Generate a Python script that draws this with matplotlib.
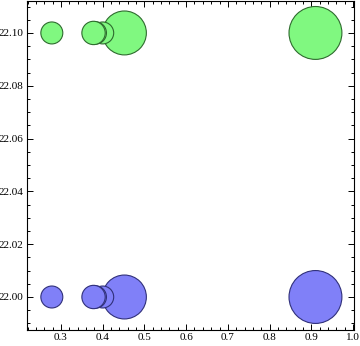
import matplotlib
matplotlib.use("Agg")
import matplotlib.pyplot as plt
from matplotlib.ticker import MultipleLocator, FormatStrFormatter
import numpy as np

# bubble data (drawn in this order)
x_vals = [0.91, 0.452, 0.40, 0.382, 0.378, 0.278]
z_vals = [5.8, 4.0, 1.0, 1.05, 1.13, 1.0]
y_green = 22.10
y_blue = 22.00

plt.rcParams['font.family'] = ['Liberation Serif', 'DejaVu Serif']

fig = plt.figure(figsize=(3.6, 3.46), dpi=100)
ax = fig.add_axes([27/360, 16/346, 327/360, 329/346])

scale = 250
sizes = np.array(z_vals) * scale
ax.scatter(x_vals, [y_green]*len(x_vals), s=sizes, facecolor='#80f880', edgecolor='#2e6b2e',
           linewidth=0.8, zorder=3)
ax.scatter(x_vals, [y_blue]*len(x_vals), s=sizes, facecolor='#8080f8', edgecolor='#30307a',
           linewidth=0.8, zorder=3)

ax.set_xlim(0.2185, 1.0024)
ax.set_ylim(21.9875, 22.1121)

ax.xaxis.set_major_locator(MultipleLocator(0.1))
ax.xaxis.set_minor_locator(MultipleLocator(0.02))
ax.yaxis.set_major_locator(MultipleLocator(0.02))
ax.yaxis.set_minor_locator(MultipleLocator(0.005))
ax.xaxis.set_major_formatter(FormatStrFormatter('%.1f'))
ax.yaxis.set_major_formatter(FormatStrFormatter('%.2f'))

ax.tick_params(which='both', direction='in', top=True, right=True, labelsize=8, width=0.7, pad=2.5)
ax.tick_params(which='major', length=4)
ax.tick_params(which='minor', length=2)
for sp in ax.spines.values():
    sp.set_linewidth(0.8)

fig.savefig('out.png', dpi=100)
